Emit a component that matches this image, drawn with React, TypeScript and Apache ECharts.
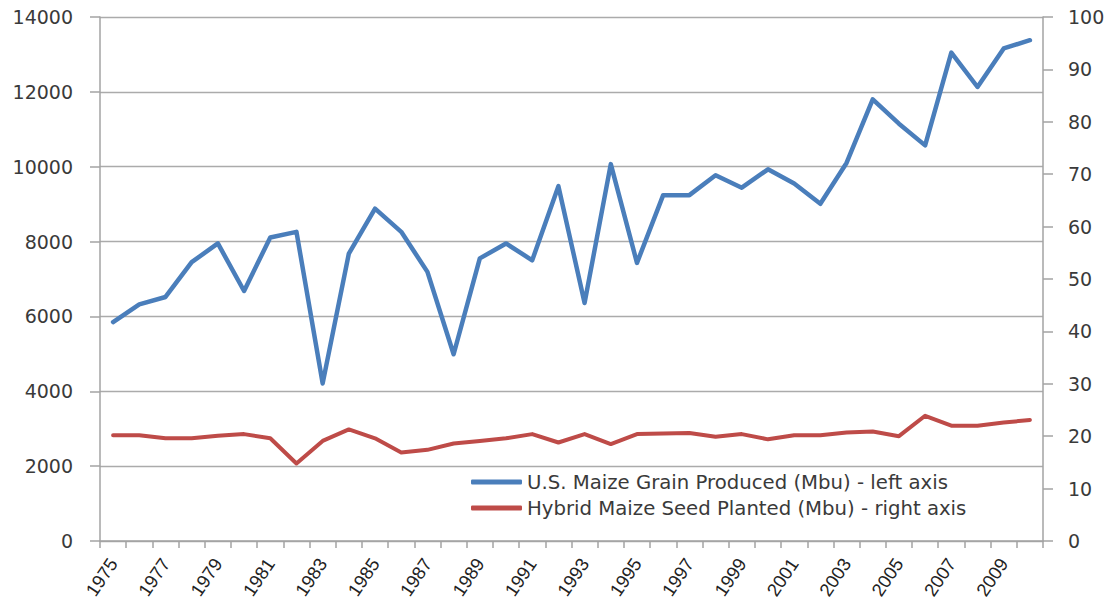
import React, { useEffect, useRef } from "react";
import * as echarts from "echarts";

const years = [
  "1975","1976","1977","1978","1979","1980","1981","1982","1983","1984",
  "1985","1986","1987","1988","1989","1990","1991","1992","1993","1994",
  "1995","1996","1997","1998","1999","2000","2001","2002","2003","2004",
  "2005","2006","2007","2008","2009","2010",
];

const grainProduced = [
  5850, 6320, 6520, 7450, 7950, 6680, 8110, 8260, 4210, 7680,
  8880, 8260, 7190, 4990, 7550, 7950, 7500, 9480, 6360, 10070,
  7430, 9240, 9240, 9770, 9440, 9930, 9550, 9010, 10100, 11800,
  11150, 10570, 13050, 12130, 13160, 13380,
];

const seedPlanted = [
  20.2, 20.2, 19.6, 19.6, 20.1, 20.4, 19.6, 14.8, 19.1, 21.3,
  19.6, 16.9, 17.4, 18.6, 19.1, 19.6, 20.4, 18.8, 20.4, 18.5,
  20.4, 20.5, 20.6, 19.9, 20.4, 19.4, 20.2, 20.2, 20.7, 20.9,
  20.0, 23.9, 22.0, 22.0, 22.6, 23.1,
];

const leftTicks = { min: 0, max: 14000, interval: 2000 };
const rightTicks = { min: 0, max: 100, interval: 10 };

const seriesNames = [
  "U.S. Maize Grain Produced (Mbu) - left axis",
  "Hybrid Maize Seed Planted (Mbu) - right axis",
];

export default function App() {
  const ref = useRef<HTMLDivElement>(null);
  useEffect(() => {
    document.body.style.margin = "0";
    if (!ref.current) return;
    const chart = echarts.init(ref.current, undefined, { renderer: "svg" });
    const axisColor = "#a3a3a3";
    const labelColor = "#3a3a3a";
    chart.setOption({
      animation: false,
      backgroundColor: "#ffffff",
      grid: { left: 100, right: 67, top: 17, bottom: 61, containLabel: false },
      legend: {
        orient: "vertical",
        left: 466,
        top: 467,
        itemGap: 6,
        itemWidth: 51,
        itemHeight: 5,
        icon: "roundRect",
        textStyle: { fontFamily: "DejaVu Sans", fontSize: 19.7, color: labelColor },
        data: seriesNames,
      },
      xAxis: {
        type: "category",
        data: years,
        boundaryGap: true,
        axisLine: { lineStyle: { color: axisColor, width: 1.5 } },
        axisTick: { show: true, interval: 0, length: 7, lineStyle: { color: axisColor, width: 1.5 } },
        axisLabel: {
          interval: 1,
          rotate: 56,
          margin: 19,
          fontFamily: "Liberation Sans",
          fontSize: 18.5,
          color: "#222222",
        },
        splitLine: { show: false },
      },
      yAxis: [
        {
          type: "value",
          min: leftTicks.min,
          max: leftTicks.max,
          interval: leftTicks.interval,
          axisLine: { show: true, lineStyle: { color: axisColor, width: 1.5 } },
          axisTick: { show: true, length: 10, lineStyle: { color: axisColor, width: 1.5 } },
          axisLabel: {
            margin: 27,
            fontFamily: "DejaVu Sans",
            fontSize: 19,
            color: labelColor,
            formatter: (v: number) => String(v),
          },
          splitLine: { show: true, lineStyle: { color: "#ababab", width: 1.3 } },
        },
        {
          type: "value",
          min: rightTicks.min,
          max: rightTicks.max,
          interval: rightTicks.interval,
          position: "right",
          axisLine: { show: true, lineStyle: { color: axisColor, width: 1.5 } },
          axisTick: { show: true, length: 10, lineStyle: { color: axisColor, width: 1.5 } },
          axisLabel: {
            margin: 25,
            fontFamily: "DejaVu Sans",
            fontSize: 19,
            color: labelColor,
            formatter: (v: number) => String(v),
          },
          splitLine: { show: false },
        },
      ],
      series: [
        {
          name: seriesNames[0],
          type: "line",
          yAxisIndex: 0,
          data: grainProduced,
          symbol: "none",
          lineStyle: { color: "#4a7ebb", width: 4.5, join: "round", cap: "round" },
          itemStyle: { color: "#4a7ebb" },
        },
        {
          name: seriesNames[1],
          type: "line",
          yAxisIndex: 1,
          data: seedPlanted,
          symbol: "none",
          lineStyle: { color: "#be4b48", width: 4, join: "round", cap: "round" },
          itemStyle: { color: "#be4b48" },
        },
      ],
    });
    return () => chart.dispose();
  }, []);
  return <div ref={ref} style={{ width: 1110, height: 602 }} />;
}
